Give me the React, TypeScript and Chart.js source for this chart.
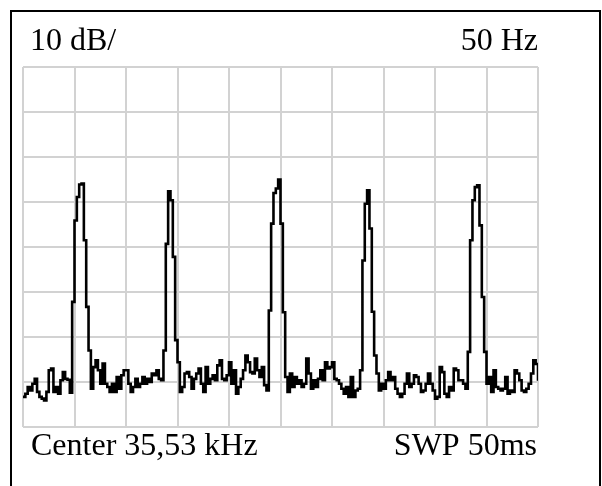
import React, { useEffect, useRef } from "react";
import { Chart, registerables } from "chart.js";

Chart.register(...registerables);

// Spectrum analyser screen: 10 divisions x 50 Hz around the centre, 8 divisions x 10 dB
const CENTER_KHZ = 35.53;
const HZ_PER_DIV = 50;
const DB_PER_DIV = 10;
const X_DIVS = 10;
const Y_DIVS = 8;
const REF_LEVEL_DB = 0;

const LABEL_TOP_LEFT = "10 dB/";
const LABEL_TOP_RIGHT = "50 Hz";
const LABEL_BOTTOM_LEFT = "Center 35,53 kHz";
const LABEL_BOTTOM_RIGHT = "SWP 50ms";

// Trace level (dB) of each sweep bin, left to right
const TRACE_DB: number[] = [
  -73.3, -72.6, -71.1, -71.9, -70.4, -69.3, -72.2, -73.3, -73.7, -74.1,
  -72.2, -67.4, -67.0, -72.2, -71.1, -72.6, -69.6, -67.8, -69.3, -69.5,
  -72.4, -52.2, -34.1, -28.9, -26.1, -25.9, -38.5, -53.3, -63.0, -71.5,
  -66.7, -65.2, -67.4, -70.4, -65.9, -70.4, -71.1, -72.2, -70.4, -72.2,
  -68.9, -71.5, -68.5, -67.4, -67.4, -70.4, -72.2, -71.1, -69.3, -71.1,
  -70.4, -68.9, -70.4, -69.3, -70.0, -68.1, -68.5, -67.4, -69.3, -69.6,
  -63.0, -39.3, -27.6, -29.6, -42.2, -60.7, -65.6, -72.2, -71.1, -68.1,
  -67.8, -68.9, -71.5, -69.3, -68.1, -67.0, -70.4, -72.2, -66.7, -70.4,
  -69.3, -68.5, -69.6, -66.3, -65.2, -69.3, -69.6, -68.5, -65.6, -70.4,
  -67.4, -72.6, -71.1, -69.3, -67.4, -64.1, -65.6, -67.8, -68.1, -64.8,
  -67.4, -68.9, -66.7, -70.7, -71.9, -54.1, -34.8, -28.0, -27.0, -25.0,
  -34.8, -54.5, -68.9, -72.2, -68.1, -71.1, -68.9, -70.4, -69.6, -71.1,
  -70.4, -64.8, -68.1, -71.5, -69.6, -71.1, -69.3, -67.4, -69.6, -65.6,
  -67.0, -66.7, -65.6, -69.3, -69.6, -70.4, -71.5, -72.6, -71.1, -73.3,
  -68.9, -73.3, -71.9, -71.5, -67.4, -43.0, -30.4, -27.4, -35.9, -54.4,
  -64.1, -68.1, -71.9, -70.4, -71.5, -69.6, -67.8, -69.6, -68.9, -71.5,
  -72.6, -73.3, -72.6, -70.4, -68.1, -71.1, -70.4, -68.5, -68.9, -70.4,
  -72.2, -71.9, -70.4, -68.1, -70.4, -71.9, -73.7, -73.3, -66.7, -67.8,
  -72.6, -73.3, -71.1, -71.9, -67.0, -67.4, -69.6, -69.6, -70.4, -71.5,
  -63.3, -38.5, -29.6, -26.7, -26.3, -35.2, -51.1, -63.3, -70.4, -68.9,
  -72.2, -67.4, -71.1, -71.5, -71.9, -71.5, -68.9, -72.6, -71.9, -72.2,
  -67.4, -68.1, -69.6, -71.9, -72.2, -71.5, -70.4, -68.1, -65.2, -66.0,
  -69.7,
];

const SPAN_HZ = HZ_PER_DIV * X_DIVS;

const overlayPlugin = {
  id: "screenOverlay",
  afterDraw(chart: Chart) {
    const { ctx, chartArea } = chart;
    ctx.save();
    // outer frame
    ctx.strokeStyle = "#000";
    ctx.lineWidth = 2;
    ctx.strokeRect(11, 11, 589, 520);
    // annotations
    ctx.fillStyle = "#000";
    ctx.font = '32px "Liberation Serif", "Times New Roman", serif';
    ctx.textBaseline = "alphabetic";
    ctx.textAlign = "left";
    ctx.fillText(LABEL_TOP_LEFT, 30, 50);
    ctx.fillText(LABEL_BOTTOM_LEFT, 31, 455);
    ctx.textAlign = "right";
    ctx.fillText(LABEL_TOP_RIGHT, chartArea.right, 50);
    ctx.fillText(LABEL_BOTTOM_RIGHT, chartArea.right - 1, 455);
    ctx.restore();
  },
};

export default function App() {
  const canvasRef = useRef<HTMLCanvasElement | null>(null);

  useEffect(() => {
    if (!canvasRef.current) return;
    const n = TRACE_DB.length;
    const points = TRACE_DB.map((db, i) => ({
      x: -SPAN_HZ / 2 + (i * SPAN_HZ) / (n - 1),
      y: db,
    }));
    const chart = new Chart(canvasRef.current, {
      type: "line",
      data: {
        datasets: [
          {
            label: `Spectrum @ ${CENTER_KHZ} kHz`,
            data: points,
            stepped: true,
            borderColor: "#000",
            borderWidth: 2.6,
            pointRadius: 0,
            fill: false,
          },
        ],
      },
      options: {
        responsive: false,
        maintainAspectRatio: false,
        animation: false,
        devicePixelRatio: 1,
        layout: { padding: { left: 23, right: 64, top: 67, bottom: 59 } },
        plugins: {
          legend: { display: false },
          tooltip: { enabled: false },
          title: { display: false },
        },
        scales: {
          x: {
            type: "linear",
            min: -SPAN_HZ / 2,
            max: SPAN_HZ / 2,
            ticks: { display: false, stepSize: HZ_PER_DIV },
            grid: { color: "#d2d2d2", lineWidth: 2, drawTicks: false, tickLength: 0 },
            border: { display: false },
          },
          y: {
            type: "linear",
            min: REF_LEVEL_DB - DB_PER_DIV * Y_DIVS,
            max: REF_LEVEL_DB,
            ticks: { display: false, stepSize: DB_PER_DIV },
            grid: { color: "#d2d2d2", lineWidth: 2, drawTicks: false, tickLength: 0 },
            border: { display: false },
          },
        },
      },
      plugins: [overlayPlugin],
    });
    return () => chart.destroy();
  }, []);

  return (
    <div style={{ position: "fixed", left: 0, top: 0, width: 602, height: 486, background: "#fff" }}>
      <canvas ref={canvasRef} width={602} height={486} style={{ display: "block", width: 602, height: 486 }} />
    </div>
  );
}
